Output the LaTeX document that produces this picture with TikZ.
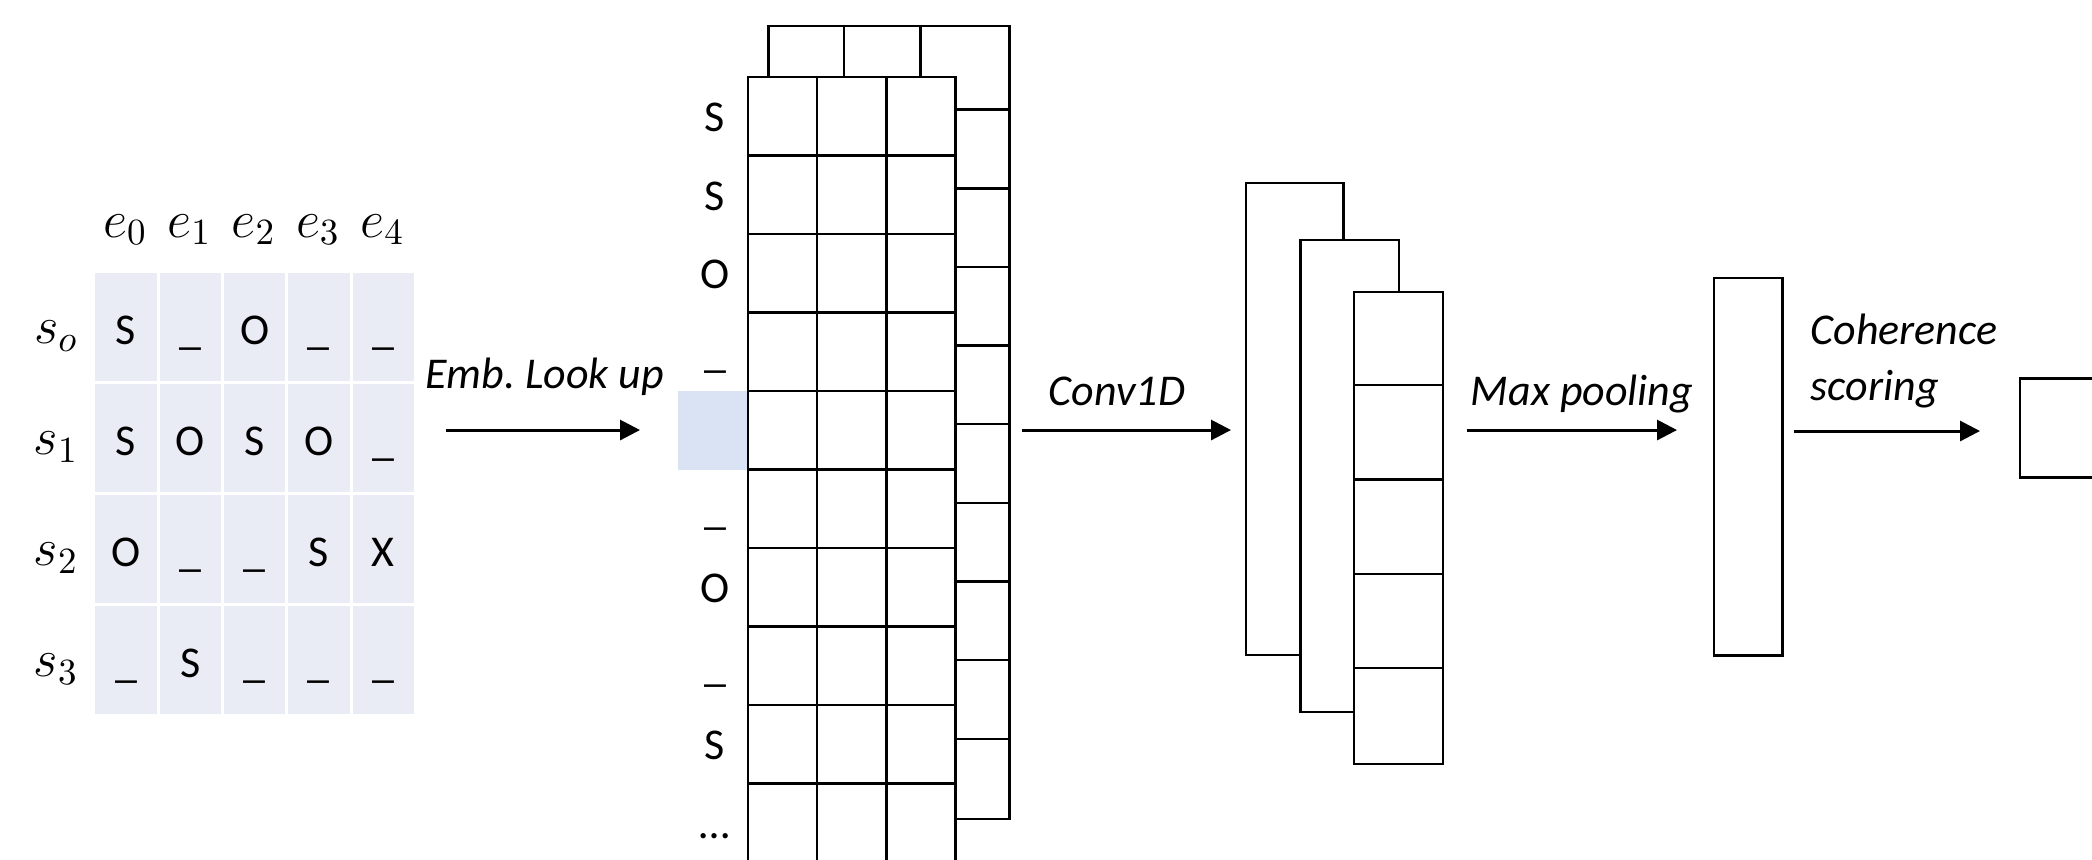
\RequirePackage{fix-cm}
\documentclass[tikz,border=0pt]{standalone}
\usepackage{fontspec}
\setmainfont{Carlito}
\usetikzlibrary{arrows.meta}
\definecolor{cellfill}{HTML}{E9EBF5}
\definecolor{hilite}{HTML}{DAE3F3}

\begin{document}
\begin{tikzpicture}[
    x=0.01cm, y=-0.01cm,
    txt/.style={font=\fontsize{12.5}{15}\selectfont, inner sep=0pt},
    lbl/.style={font=\fontsize{12.5}{15.8}\selectfont\itshape, inner sep=0pt},
    mathlbl/.style={font=\fontsize{15}{18}\selectfont, inner sep=0pt},
    cell/.style={rectangle, fill=cellfill, anchor=north west, inner sep=0pt, minimum width=0.613cm, minimum height=1.086cm, text height=0.34cm, text depth=0pt, font=\fontsize{12.5}{15}\selectfont},
    gridcell/.style={rectangle, draw, fill=white, line width=0.7pt, anchor=north west, inner sep=0pt, minimum width=0.692cm, minimum height=0.785cm},
    box/.style={rectangle, draw, fill=white, line width=0.7pt, anchor=north west, inner sep=0pt},
    arrow/.style={-{Triangle[length=0.2cm,width=0.2cm]}, line width=0.85pt}
]
\useasboundingbox (0,0) rectangle (2092,859);
\clip (0,0) rectangle (2092,859);

% Table
\foreach \e [count=\j from 0] in {0,1,2,3,4} {
    \node[mathlbl, anchor=base] (h\j) at ({125.2+\j*64.3},237) {$e_\e$};
}
\foreach \s [count=\i from 0] in {o,1,2,3} {
    \node[mathlbl, anchor=base] (r\i) at (56,{272.1+\i*111+71}) {$s_\s$};
}
\foreach \row [count=\i from 0] in {{S,\_,O,\_,\_},{S,O,S,O,\_},{O,\_,\_,S,X},{\_,S,\_,\_,\_}} {
    \foreach \ch [count=\j from 0] in \row {
        \node[cell] (c\i\j) at ({94.6+\j*64.3},{272.1+\i*111}) {\ch};
    }
}

% Embedding lookup
\coordinate (embA) at (446,430);
\coordinate (embB) at (640,430);
\draw[arrow] (embA) -- (embB);
\node[lbl, anchor=base] (emb) at (545,388) {Emb.\ Look up};

% Embedding matrix (back layer)
\node[box, minimum width=2.41cm, minimum height=7.928cm] (back) at (767.3,24.7) {};
\foreach \xx in {844,920.7} {
    \draw[line width=0.7pt] (\xx,24.7) -- (\xx,80);
}
\foreach \k in {0,...,8} {
    \draw[line width=0.7pt] (950,{109.6+\k*78.66}) -- (back.east |- 0,{109.6+\k*78.66});
}

% Embedding matrix (front layer)
\node[rectangle, fill=hilite, anchor=north west, inner sep=0pt, minimum width=0.69cm, minimum height=0.79cm] (hl) at (677.7,390) {};
\foreach \r in {0,...,10} {
    \foreach \c in {0,1,2} {
        \node[gridcell] (g\r\c) at ({746.7+\c*69.2},{75.6+\r*78.5}) {};
    }
}
\foreach \t [count=\r from 0] in {S,S,O,\_,,\_,O,\_,S,\ldots} {
    \node[txt, anchor=base] (w\r) at (715,{75.6+\r*78.5+56}) {\t};
}

% Convolution
\coordinate (convA) at (1022,430);
\coordinate (convB) at (1231,430);
\draw[arrow] (convA) -- (convB);
\node[lbl, anchor=base] (conv) at (1117,405) {Conv1D};

\node[box, minimum width=0.97cm, minimum height=4.717cm] (fmap1) at (1245,181.7) {};
\node[box, minimum width=0.982cm, minimum height=4.717cm] (fmap2) at (1299.4,238.8) {};
\node[box, minimum width=0.885cm, minimum height=4.721cm] (fmap3) at (1353,290.6) {};
\foreach \k in {1,...,4} {
    \draw[line width=0.7pt] (fmap3.north west) ++(0,{94.4*\k}) -- ++(88.5,0);
}

% Pooling
\coordinate (poolA) at (1467,430);
\coordinate (poolB) at (1677,430);
\draw[arrow] (poolA) -- (poolB);
\node[lbl, anchor=base] (pool) at (1582,405) {Max pooling};

\node[box, minimum width=0.683cm, minimum height=3.776cm] (vec) at (1713,276.6) {};

% Scoring
\coordinate (scoreA) at (1794,431);
\coordinate (scoreB) at (1980,431);
\draw[arrow] (scoreA) -- (scoreB);
\node[lbl, anchor=base west, align=left] (score) at (1810,400) {Coherence\\scoring};

\node[box, minimum width=1.2cm, minimum height=0.988cm] (out) at (2018.8,377.4) {};

\end{tikzpicture}
\end{document}
